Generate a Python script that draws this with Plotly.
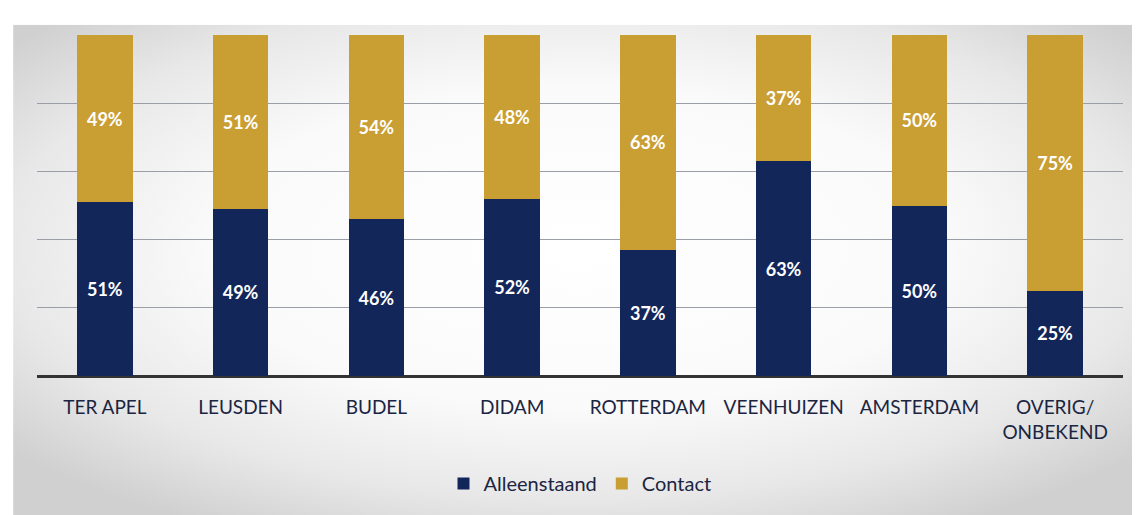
import base64
import plotly.graph_objects as go

categories = ["TER APEL", "LEUSDEN", "BUDEL", "DIDAM", "ROTTERDAM", "VEENHUIZEN", "AMSTERDAM", "OVERIG/<br>ONBEKEND"]
alleenstaand = [51, 49, 46, 52, 37, 63, 50, 25]
contact = [49, 51, 54, 48, 63, 37, 50, 75]

NAVY = "#13265a"
GOLD = "#c99e33"
FONT = "Lato, 'Open Sans', sans-serif"

svg = """<svg xmlns='http://www.w3.org/2000/svg' width='1132' height='497' viewBox='0 0 1132 497' preserveAspectRatio='none'>
<defs><radialGradient id='g' cx='50%' cy='45%' r='65%'>
<stop offset='0%' stop-color='#ffffff'/>
<stop offset='50%' stop-color='#fafafa'/>
<stop offset='78%' stop-color='#e8e8e8'/>
<stop offset='100%' stop-color='#d0d0d0'/>
</radialGradient></defs>
<rect width='1132' height='497' fill='url(#g)'/></svg>"""
src = "data:image/svg+xml;base64," + base64.b64encode(svg.encode()).decode()

fig = go.Figure()
fig.add_trace(go.Bar(
    x=categories, y=alleenstaand, name="Alleenstaand",
    marker=dict(color=NAVY, line=dict(width=0)),
    text=[f"{v}%" for v in alleenstaand], textposition="inside",
    insidetextanchor="middle",
    textfont=dict(color="white", size=18, family=FONT, weight="bold"),
))
fig.add_trace(go.Bar(
    x=categories, y=contact, name="Contact",
    marker=dict(color=GOLD, line=dict(width=0)),
    text=[f"{v}%" for v in contact], textposition="inside",
    insidetextanchor="middle",
    textfont=dict(color="white", size=18, family=FONT, weight="bold"),
))

fig.update_layout(
    barmode="stack",
    bargap=0.59,
    width=1132, height=507,
    margin=dict(l=29, r=17, t=27, b=137),
    paper_bgcolor="white",
    plot_bgcolor="rgba(0,0,0,0)",
    font=dict(family=FONT, color="#1b2542"),
    uniformtext=dict(mode=False),
    showlegend=True,
    legend=dict(orientation="h", x=0.5, xanchor="center", y=-0.315, yanchor="middle",
                font=dict(size=20, color="#1b2542", family=FONT),
                bgcolor="rgba(0,0,0,0)", traceorder="normal"),
    xaxis=dict(showgrid=False, tickfont=dict(size=19, color="#1b2542", family=FONT),
               ticks="outside", ticklen=14, tickcolor="rgba(0,0,0,0)", showline=False),
    yaxis=dict(range=[0, 100], dtick=20, showgrid=True, gridcolor="#9a9ea6", gridwidth=1,
               showticklabels=False, zeroline=True, zerolinecolor="#333333", zerolinewidth=3,
               showline=False),
    images=[dict(source=src, xref="paper", yref="paper", x=-0.022, y=1.03, sizex=1.04, sizey=1.45,
                 xanchor="left", yanchor="top", sizing="stretch", layer="below")],
)

fig.write_html("out.html")
